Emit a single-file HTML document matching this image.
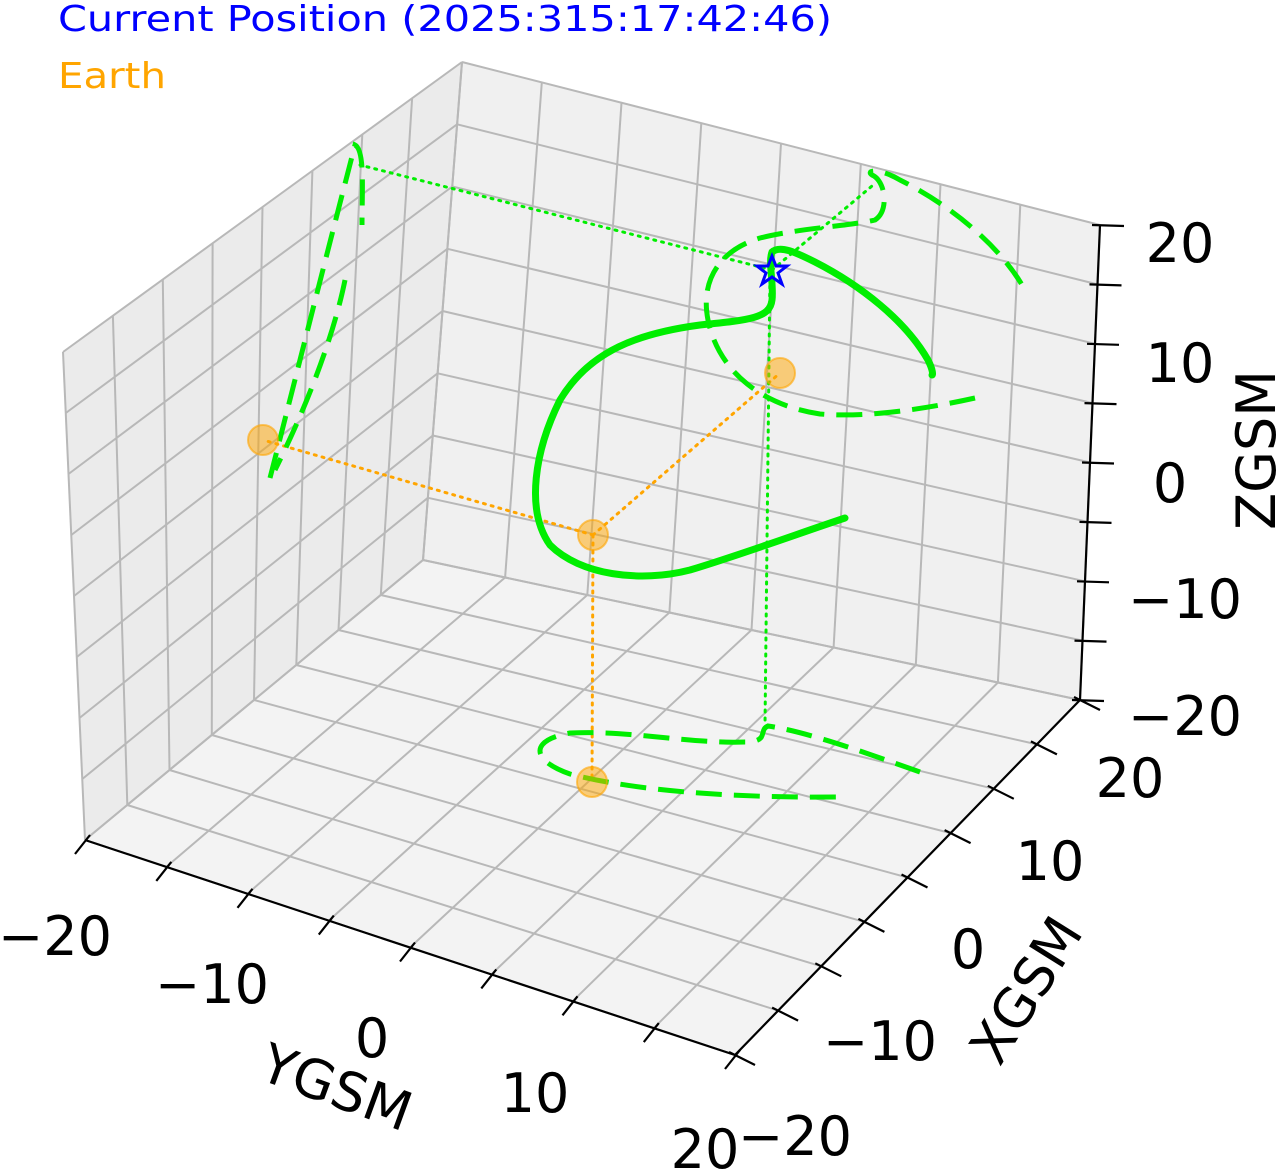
<!DOCTYPE html>
<html><head><meta charset="utf-8">
<style>
html,body{margin:0;padding:0;background:#fff;}
svg{display:block;font-family:"DejaVu Sans","Liberation Sans",sans-serif;}
</style></head>
<body>
<svg id="s" width="1278" height="1171" viewBox="0 0 1278 1171" xmlns="http://www.w3.org/2000/svg">
<rect width="1278" height="1171" fill="#fff"/>
<g id="panes"></g>
<g id="grid" stroke="#b8b8b8" stroke-width="2" fill="none"></g>
<g id="axes" stroke="#000" stroke-width="2.2" fill="none"></g>

<g fill="none" stroke-width="3" stroke-dasharray="2,6" stroke-linecap="round">
<polyline points="593,535 263,440" stroke="#ffa500"/>
<polyline points="593,535 780,373" stroke="#ffa500"/>
<polyline points="593,535 592,782" stroke="#ffa500"/>
<polyline points="772,270 360,165" stroke="#00ee00"/>
<polyline points="772,270 872,186" stroke="#00ee00"/>
<polyline points="770,270 765,725" stroke="#00ee00"/>
</g>

<g fill="none" stroke="#00ee00" stroke-width="5" stroke-dasharray="26,12" stroke-linecap="butt">
<path d="M975,398 C930,408 870,418 820,414 C760,405 718,370 708,320 C700,280 720,250 760,238 C800,228 850,226 875,220 C890,210 885,180 872,175 C865,170 880,168 900,180 C950,205 1000,245 1025,290"/>
<path d="M270,478 C290,400 320,280 355,145 C365,150 362,190 362,225 M345,280 C335,330 310,400 275,470"/>
<path d="M920,772 C880,758 810,732 768,726 C758,730 770,742 745,742 C690,744 630,730 570,733 C530,740 530,760 570,774 C640,792 740,798 840,797"/>
</g>

<path d="M845,518 C800,533 740,555 690,570 C640,583 580,575 550,545 C525,510 535,450 560,400 C590,350 640,333 700,325 C750,320 770,318 772,300 C774,285 768,262 772,252 C780,245 795,252 815,262 C860,285 905,320 928,360 C933,370 933,375 932,375" fill="none" stroke="#00ee00" stroke-width="7" stroke-linecap="round"/>

<g fill="#ffa500" fill-opacity="0.5" stroke="#ffa500" stroke-opacity="0.6" stroke-width="2">
<circle cx="263" cy="440" r="15"/>
<circle cx="780" cy="373" r="15"/>
<circle cx="593" cy="535" r="15"/>
<circle cx="592" cy="782" r="15"/>
</g>
<polygon points="772,256 776,266 787,266 778,273 782,284 772,277 762,284 766,273 757,266 768,266" fill="none" stroke="#0000ff" stroke-width="3"/>

<text x="58" y="31" font-size="36" fill="#0000ff" textLength="774" lengthAdjust="spacingAndGlyphs">Current Position (2025:315:17:42:46)</text>
<text x="58" y="88" font-size="36" fill="#ffa500" textLength="108" lengthAdjust="spacingAndGlyphs">Earth</text>

<g font-size="54" fill="#000" text-anchor="middle">
<text x="1180" y="262">20</text>
<text x="1180" y="382">10</text>
<text x="1170" y="502">0</text>
<text x="1185" y="618">−10</text>
<text x="1185" y="735">−20</text>
<text x="1130" y="797">20</text>
<text x="1050" y="880">10</text>
<text x="968" y="968">0</text>
<text x="880" y="1060">−10</text>
<text x="795" y="1155">−20</text>
<text x="55" y="955">−20</text>
<text x="212" y="1003">−10</text>
<text x="372" y="1057">0</text>
<text x="535" y="1112">10</text>
<text x="705" y="1168">20</text>
<text transform="translate(1275,450) rotate(-90)">ZGSM</text>
<text transform="translate(1042,1000) rotate(-58)">XGSM</text>
<text transform="translate(330,1105) rotate(20)">YGSM</text>
</g>

<script>
var C={'000':[85,840],'100':[423,560],'010':[735,1055],'110':[1080,700],
'001':[63,352],'101':[462,62],'011':[732,590],'111':[1100,225]};
function P(X,Y,Z){var u=(X+20)/40,v=(Y+20)/40,w=(Z+20)/40,r=[0,0];
for(var a=0;a<2;a++)for(var b=0;b<2;b++)for(var c=0;c<2;c++){
var wt=(a?u:1-u)*(b?v:1-v)*(c?w:1-w),p=C[''+a+b+c];r[0]+=wt*p[0];r[1]+=wt*p[1];}
return r;}
var NS='http://www.w3.org/2000/svg';
function el(g,tag,at){var e=document.createElementNS(NS,tag);for(var k in at)e.setAttribute(k,at[k]);document.getElementById(g).appendChild(e);return e;}
function pl(g,pts,at){at=at||{};at.points=pts.map(function(p){return p[0].toFixed(1)+','+p[1].toFixed(1)}).join(' ');return el(g,'polyline',at);}
function poly(g,pts,fill){el(g,'polygon',{points:pts.map(function(p){return p.join(',')}).join(' '),fill:fill});}
poly('panes',[P(-20,-20,-20),P(20,-20,-20),P(20,-20,20),P(-20,-20,20)],'#ebebeb');
poly('panes',[P(20,-20,-20),P(20,20,-20),P(20,20,20),P(20,-20,20)],'#f0f0f0');
poly('panes',[P(-20,-20,-20),P(20,-20,-20),P(20,20,-20),P(-20,20,-20)],'#f3f3f3');
for(var t=-20;t<=20;t+=5){
 pl('grid',[P(t,-20,-20),P(t,-20,20)]);pl('grid',[P(-20,-20,t),P(20,-20,t)]);
 pl('grid',[P(20,t,-20),P(20,t,20)]);pl('grid',[P(20,-20,t),P(20,20,t)]);
 pl('grid',[P(t,-20,-20),P(t,20,-20)]);pl('grid',[P(-20,t,-20),P(20,t,-20)]);
}
pl('axes',[P(20,20,20),P(20,20,-20)]);
pl('axes',[P(-20,-20,-20),P(-20,20,-20)]);
pl('axes',[P(-20,20,-20),P(20,20,-20)]);
for(var t=-20;t<=20;t+=5){
 var a=P(20,20,t);pl('axes',[[a[0]-8,a[1]],[a[0]+24,a[1]+1]]);
 var b=P(-20,t,-20);pl('axes',[[b[0]+5,b[1]-5],[b[0]-10,b[1]+14]]);
 var c=P(t,20,-20);pl('axes',[[c[0]-6,c[1]-3],[c[0]+20,c[1]+10]]);
}
</script>
</svg>
</body></html>
